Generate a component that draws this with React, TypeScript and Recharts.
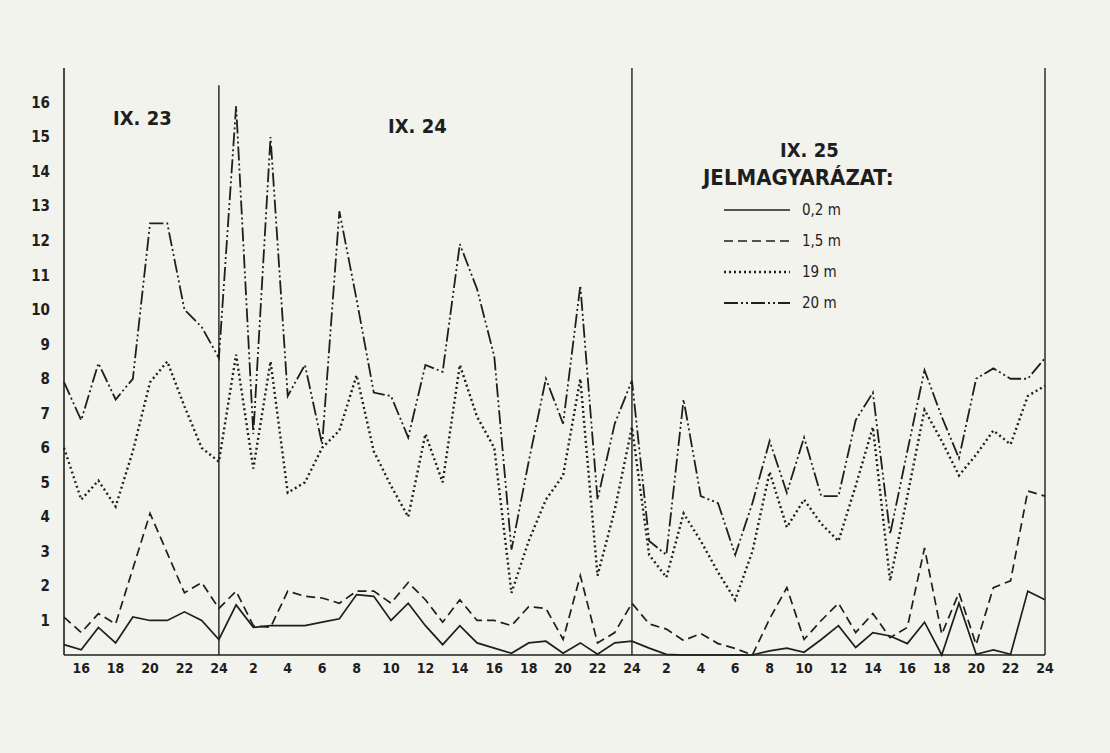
import React from 'react';
import { LineChart, Line, XAxis, YAxis, ReferenceLine } from 'recharts';

// hours counted from IX.23 00:00 (24 = midnight IX.24, 48 = midnight IX.25)
const hours = [
  15, 16, 17, 18, 19, 20, 21, 22, 23, 24,
  25, 26, 27, 28, 29, 30, 31, 32, 33, 34, 35, 36, 37, 38, 39, 40, 41, 42, 43, 44, 45, 46, 47, 48,
  49, 50, 51, 52, 53, 54, 55, 56, 57, 58, 59, 60, 61, 62, 63, 64, 65, 66, 67, 68, 69, 70, 71, 72,
];

const depth02 = [
  0.3, 0.15, 0.8, 0.35, 1.1, 1.0, 1.0, 1.25, 1.0, 0.45,
  1.45, 0.8, 0.85, 0.85, 0.85, 0.95, 1.05, 1.75, 1.7, 1.0, 1.5, 0.85, 0.3, 0.85, 0.35, 0.2, 0.05, 0.35, 0.4, 0.05, 0.35, 0.02, 0.35, 0.4,
  0.2, 0.02, 0, 0, 0, 0, 0, 0.12, 0.2, 0.08, 0.45, 0.85, 0.22, 0.65, 0.55, 0.33, 0.95, 0, 1.5, 0.02, 0.15, 0.02, 1.85, 1.6,
];

const depth15 = [
  1.1, 0.65, 1.2, 0.9, 2.5, 4.1, 2.95, 1.8, 2.1, 1.35,
  1.85, 0.85, 0.8, 1.85, 1.7, 1.65, 1.5, 1.85, 1.85, 1.5, 2.1, 1.6, 0.95, 1.6, 1.0, 1.0, 0.85, 1.4, 1.35, 0.45, 2.3, 0.35, 0.65, 1.5,
  0.9, 0.75, 0.42, 0.62, 0.33, 0.19, 0, 1.05, 1.95, 0.45, 1.0, 1.5, 0.65, 1.2, 0.5, 0.8, 3.1, 0.6, 1.8, 0.3, 1.95, 2.15, 4.75, 4.6,
];

const depth19 = [
  6.0, 4.5, 5.05, 4.3, 5.9, 7.9, 8.5, 7.2, 6.0, 5.6,
  8.7, 5.4, 8.5, 4.7, 5.0, 6.0, 6.5, 8.1, 5.9, 4.9, 4.0, 6.4, 5.0, 8.4, 6.9, 6.0, 1.8, 3.3, 4.5, 5.2, 8.0, 2.3, 4.2, 6.6,
  2.9, 2.25, 4.1, 3.3, 2.4, 1.6, 3.0, 5.3, 3.7, 4.5, 3.8, 3.3, 4.9, 6.6, 2.15, 4.6, 7.1, 6.2, 5.2, 5.8, 6.5, 6.1, 7.5, 7.8,
];

const depth20 = [
  7.9, 6.8, 8.45, 7.4, 8.0, 12.5, 12.5, 10.0, 9.5, 8.6,
  15.9, 6.4, 15.0, 7.5, 8.4, 6.1, 12.85, 10.3, 7.6, 7.5, 6.3, 8.4, 8.2, 11.9, 10.6, 8.65, 3.05, 5.6, 8.0, 6.7, 10.7, 4.5, 6.7, 7.95,
  3.3, 2.9, 7.4, 4.6, 4.4, 2.9, 4.4, 6.2, 4.7, 6.3, 4.6, 4.6, 6.8, 7.6, 3.5, 5.9, 8.25, 6.9, 5.7, 8.0, 8.3, 8.0, 8.0, 8.6,
];

const xTicks = [16, 18, 20, 22, 24, 26, 28, 30, 32, 34, 36, 38, 40, 42, 44, 46, 48, 50, 52, 54, 56, 58, 60, 62, 64, 66, 68, 70, 72];
const yTicks = [1, 2, 3, 4, 5, 6, 7, 8, 9, 10, 11, 12, 13, 14, 15, 16];
const dayLabels = ['IX. 23', 'IX. 24', 'IX. 25'];
const legendNames = ['0,2 m', '1,5 m', '19 m', '20 m'];

const data = hours.map((t, i) => ({
  t,
  d02: depth02[i],
  d15: depth15[i],
  d19: depth19[i],
  d20: depth20[i],
}));

const ink = '#1e1e1e';
const font = "'DejaVu Sans Condensed', 'DejaVu Sans', sans-serif";

const dashes = ['', '9 5', '2 3', '14 3 2 3 2 3'];
const widths = [1.7, 1.7, 2.4, 1.8];

const hourLabel = (v: number) => (v % 24 === 0 ? '24' : String(v % 24));

export default function App() {
  return (
    <div
      style={{
        position: 'absolute',
        left: 0,
        top: 0,
        width: 1110,
        height: 753,
        background: '#f3f3ee',
        fontFamily: font,
        color: ink,
      }}
    >
      <LineChart
        width={1110}
        height={753}
        data={data}
        margin={{ top: 68, right: 65, bottom: 68, left: 0 }}
      >
        <XAxis
          type="number"
          dataKey="t"
          domain={[15, 72]}
          ticks={xTicks}
          tickFormatter={hourLabel}
          interval={0}
          height={30}
          tickLine={false}
          axisLine={{ stroke: ink, strokeWidth: 1.6 }}
          tick={{ fill: ink, fontSize: 14, fontWeight: 700, fontFamily: font }}
          tickMargin={2}
        />
        <YAxis
          type="number"
          domain={[0, 17]}
          ticks={yTicks}
          interval={0}
          width={64}
          tickLine={false}
          axisLine={{ stroke: ink, strokeWidth: 1.6 }}
          tick={{ fill: ink, fontSize: 15, fontWeight: 700, fontFamily: font }}
          tickMargin={8}
        />
        <ReferenceLine
          segment={[{ x: 24, y: 0 }, { x: 24, y: 16.5 }]}
          stroke={ink}
          strokeWidth={1.4}
        />
        <ReferenceLine x={48} stroke={ink} strokeWidth={1.4} />
        <ReferenceLine x={72} stroke={ink} strokeWidth={1.4} />
        <Line type="linear" dataKey="d02" stroke={ink} strokeWidth={widths[0]} dot={false} isAnimationActive={false} />
        <Line type="linear" dataKey="d15" stroke={ink} strokeWidth={widths[1]} strokeDasharray={dashes[1]} dot={false} isAnimationActive={false} />
        <Line type="linear" dataKey="d19" stroke={ink} strokeWidth={widths[2]} strokeDasharray={dashes[2]} dot={false} isAnimationActive={false} />
        <Line type="linear" dataKey="d20" stroke={ink} strokeWidth={widths[3]} strokeDasharray={dashes[3]} dot={false} isAnimationActive={false} />
      </LineChart>

      <div style={{ position: 'absolute', left: 113, top: 106, fontSize: 20, fontWeight: 700 }}>{dayLabels[0]}</div>
      <div style={{ position: 'absolute', left: 388, top: 114, fontSize: 20, fontWeight: 700 }}>{dayLabels[1]}</div>
      <div style={{ position: 'absolute', left: 780, top: 138, fontSize: 20, fontWeight: 700 }}>{dayLabels[2]}</div>
      <div style={{ position: 'absolute', left: 703, top: 165, fontSize: 22, fontWeight: 700 }}>JELMAGYARÁZAT:</div>

      {legendNames.map((name, i) => (
        <div
          key={name}
          style={{ position: 'absolute', left: 724, top: 199 + i * 31, display: 'flex', alignItems: 'center', height: 22 }}
        >
          <svg width={68} height={10}>
            <line x1={0} y1={5} x2={66} y2={5} stroke={ink} strokeWidth={widths[i]} strokeDasharray={dashes[i] || undefined} />
          </svg>
          <span style={{ marginLeft: 10, fontSize: 15 }}>{name}</span>
        </div>
      ))}
    </div>
  );
}
